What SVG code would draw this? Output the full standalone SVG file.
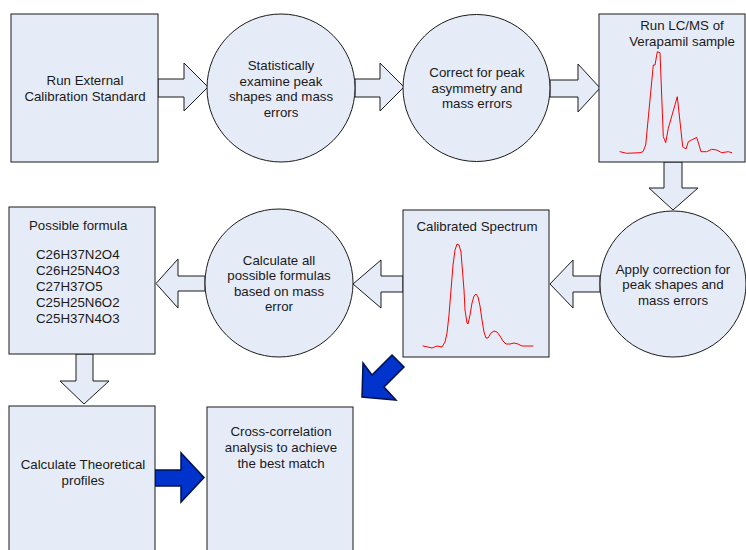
<svg xmlns="http://www.w3.org/2000/svg" width="746" height="550" viewBox="0 0 746 550">
<style>
.n{fill:#e6ecf7;stroke:#1a1a1a;stroke-width:1}
.a{fill:#e6ecf7;stroke:#1a1a1a;stroke-width:1;stroke-linejoin:miter}
.b{fill:#0033cc;stroke:#00114d;stroke-width:1.5;stroke-linejoin:miter}
.t{font-family:"Liberation Sans",Arial,sans-serif;font-size:13.3px;fill:#1a1a1a;text-anchor:middle}
.l{text-anchor:start}
.s{fill:none;stroke:#ff0000;stroke-width:1;stroke-linejoin:round;stroke-linecap:round}
</style>
<rect width="746" height="550" fill="#ffffff"/>
<g id="connectors">
<polygon class="a" points="158,79 184,79 184,63 208,87 184,111 184,97 158,97"/>
<polygon class="a" points="355,79 380,79 380,63 404,87 380,111 380,97 355,97"/>
<polygon class="a" points="550,80 578,80 578,64 600,88 578,112 578,97 550,97"/>
<polygon class="a" points="664,162 682,162 682,188 698,188 673,210 649,188 664,188"/>
<polygon class="a" points="600,276 573,276 573,260 550,284 573,308 573,292 600,292"/>
<polygon class="a" points="403,276 381,276 381,260 353,284 381,308 381,292 403,292"/>
<polygon class="a" points="205,276 178,276 178,259 156,283.5 178,308 178,291 205,291"/>
<polygon class="a" points="76,354 93,354 93,381 109,381 84,404 60,381 76,381"/>
<polygon class="b" points="155,470 181,470 181,453 204,477.5 181,502 181,486 155,486"/>
<polygon class="b" points="392,355 404,367 384,387 396,400 362,397 363,363 372,375"/>
</g>
<g id="n1">
<rect class="n" x="11" y="14" width="147" height="148"/>
<text class="t" x="85" y="85">Run External</text>
<text class="t" x="85" y="101">Calibration Standard</text>
</g>
<g id="n2">
<circle class="n" cx="281" cy="88" r="74"/>
<text class="t" x="281" y="70">Statistically</text>
<text class="t" x="281" y="85.5">examine peak</text>
<text class="t" x="281" y="101">shapes and mass</text>
<text class="t" x="281" y="116.5">errors</text>
</g>
<g id="n3">
<circle class="n" cx="476.5" cy="88" r="73.5"/>
<text class="t" x="477" y="77">Correct for peak</text>
<text class="t" x="477" y="92.5">asymmetry and</text>
<text class="t" x="477" y="108">mass errors</text>
</g>
<g id="n4">
<rect class="n" x="599" y="14" width="146" height="148"/>
<text class="t" x="682" y="30">Run LC/MS of</text>
<text class="t" x="682" y="45.5">Verapamil sample</text>
<polyline class="s" points="620,151.7 626.7,153.3 640,152.7 643,151.7 645.7,145 653.3,65 655,65 657.3,51.7 660,52.7 663.3,136.7 665.7,142.7 668.3,128.3 677.3,96.7 682.7,146.7 686,149 688.3,141.7 691.7,140 696.7,137.3 701,151.7 706.7,151.7 711.7,149.3 716.7,150 721.7,152.7 728.3,151.7 731.7,152.7"/>
</g>
<g id="n5">
<circle class="n" cx="673" cy="284" r="73"/>
<text class="t" x="673" y="273.5">Apply correction for</text>
<text class="t" x="673" y="289">peak shapes and</text>
<text class="t" x="673" y="304.5">mass errors</text>
</g>
<g id="n6">
<rect class="n" x="403" y="210" width="146" height="147"/>
<text class="t" x="477" y="231">Calibrated Spectrum</text>
<polyline class="s" points="423,346 428,347 432,348 437,346 442,347 445,342 447,333 449,315 451,290 453,265 455,250 457,244 459,245 461,252 462,265 464,290 465,310 467,323 468,324 470,315 472,303 474,296 476,294 478,297 480,306 482,320 484,332 486,338 488,338 491,333 494,331 497,332 500,336 503,341 506,344 510,344 514,343 518,344 522,346 527,346 533,346"/>
</g>
<g id="n7">
<circle class="n" cx="279" cy="283" r="74"/>
<text class="t" x="279" y="264.5">Calculate all</text>
<text class="t" x="279" y="280">possible formulas</text>
<text class="t" x="279" y="295.5">based on mass</text>
<text class="t" x="279" y="311">error</text>
</g>
<g id="n8">
<rect class="n" x="9" y="207" width="146" height="147"/>
<text class="t l" x="29" y="229.5">Possible formula</text>
<text class="t l" x="36" y="259">C26H37N2O4</text>
<text class="t l" x="36" y="275">C26H25N4O3</text>
<text class="t l" x="36" y="291">C27H37O5</text>
<text class="t l" x="36" y="307">C25H25N6O2</text>
<text class="t l" x="36" y="323">C25H37N4O3</text>
</g>
<g id="n9">
<rect class="n" x="9" y="406" width="146" height="150"/>
<text class="t" x="83" y="469">Calculate Theoretical</text>
<text class="t" x="83" y="484.5">profiles</text>
</g>
<g id="n10">
<rect class="n" x="207" y="407" width="146" height="150"/>
<text class="t" x="281" y="436">Cross-correlation</text>
<text class="t" x="281" y="452">analysis to achieve</text>
<text class="t" x="281" y="467.5">the best match</text>
</g>
</svg>
